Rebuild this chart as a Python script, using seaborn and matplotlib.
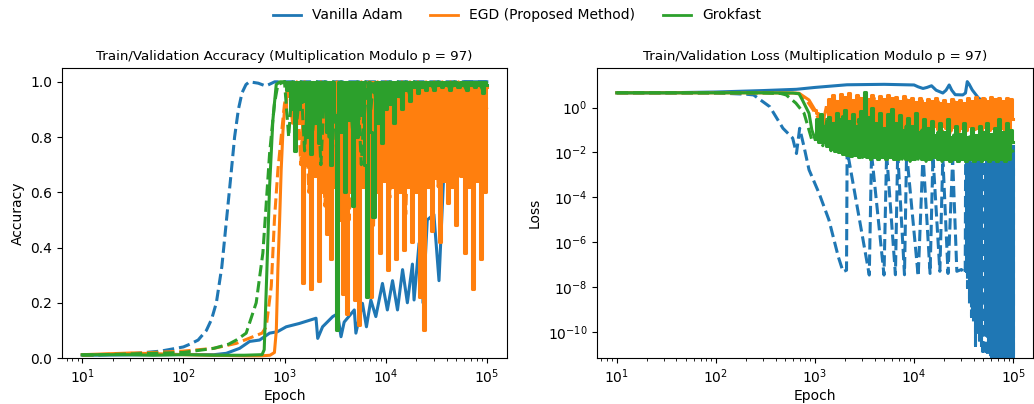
import matplotlib
matplotlib.use("Agg")
import matplotlib.pyplot as plt
from matplotlib.lines import Line2D
import seaborn as sns

# colours / labels
methods = ["Vanilla Adam", "EGD (Proposed Method)", "Grokfast"]
colors = ["#1f77b4", "#ff7f0e", "#2ca02c"]

# epoch grid used for the noisy part of the runs (1e3 .. 1e5)
dense_epochs = [
    1000, 1050, 1100, 1150, 1200, 1260, 1320, 1380, 1450, 1510,
    1580, 1660, 1740, 1820, 1900, 2000, 2090, 2190, 2290, 2400,
    2510, 2630, 2750, 2880, 3020, 3160, 3310, 3470, 3630, 3800,
    3980, 4170, 4370, 4570, 4790, 5010, 5250, 5500, 5750, 6030,
    6310, 6610, 6920, 7240, 7590, 7940, 8320, 8710, 9120, 9550,
    10000, 10500, 11000, 11500, 12000, 12600, 13200, 13800, 14500, 15100,
    15800, 16600, 17400, 18200, 19100, 20000, 20900, 21900, 22900, 24000,
    25100, 26300, 27500, 28800, 30200, 31600, 33100, 34700, 36300, 38000,
    39800, 41700, 43700, 45700, 47900, 50100, 52500, 55000, 57500, 60300,
    63100, 66100, 69200, 72400, 75900, 79400, 83200, 87100, 91200, 95500,
    100000]
coarse_epochs = dense_epochs[::2]

# ---------------- accuracy ----------------
adam_train_acc_ep = [10, 30, 60, 100, 116, 140, 169, 190, 212, 240, 267, 295, 321, 350, 380,
                     416, 450, 550, 650, 700, 800, 1000, 3000, 10000, 30000, 100000]
adam_train_acc = [0.01, 0.015, 0.025, 0.04, 0.05, 0.065, 0.1, 0.14, 0.2, 0.33, 0.5, 0.66, 0.8, 0.9, 0.96,
                  0.99, 1.0, 0.995, 0.985, 0.99, 1.0, 1.0, 1.0, 1.0, 1.0, 1.0]

adam_val_acc_ep = [10, 50, 100, 200, 266, 360, 452, 567, 712, 850, 1040, 1400, 2050, 2130, 2380,
                   3000, 3350, 3620, 3890, 4900, 5080, 5900, 6460, 7140, 8000, 9300, 10400, 11700, 13100,
                   14700, 16400, 18400, 19100, 21400, 23100, 23400, 25800, 30000, 33700, 37700, 40000,
                   44000, 50000, 60000, 100000]
adam_val_acc = [0.01, 0.012, 0.013, 0.012, 0.017, 0.035, 0.06, 0.065, 0.09, 0.095, 0.113, 0.125, 0.144, 0.071,
                0.113, 0.15, 0.16, 0.077, 0.13, 0.174, 0.09, 0.198, 0.113, 0.21, 0.15, 0.27, 0.174, 0.28,
                0.174, 0.32, 0.2, 0.34, 0.21, 0.415, 0.43, 0.2, 0.5, 0.52, 0.28, 0.68, 0.7, 0.9, 0.98, 1.0, 1.0]

egd_val_acc_pre_ep = [10, 30, 60, 100, 200, 400, 600, 720, 795, 830, 860, 895, 927, 965]
egd_val_acc_pre = [0.012, 0.018, 0.015, 0.012, 0.01, 0.008, 0.008, 0.01, 0.02, 0.1, 0.32, 0.5, 0.68, 0.82]
egd_val_acc_dense = [
    0.9, 0.95, 1.0, 0.88, 1.0, 0.8, 1.0, 0.85, 1.0, 0.27,
    1.0, 0.7, 1.0, 0.25, 1.0, 0.66, 1.0, 0.28, 1.0, 0.6,
    1.0, 0.45, 1.0, 0.36, 1.0, 0.62, 1.0, 0.5, 1.0, 0.23,
    1.0, 0.16, 1.0, 0.6, 1.0, 0.21, 1.0, 0.12, 1.0, 0.62,
    1.0, 0.3, 1.0, 0.22, 1.0, 0.6, 1.0, 0.38, 1.0, 0.64,
    1.0, 0.32, 1.0, 0.62, 1.0, 0.36, 1.0, 0.6, 1.0, 0.39,
    1.0, 0.62, 1.0, 0.42, 1.0, 0.6, 1.0, 0.22, 1.0, 0.1,
    1.0, 0.62, 1.0, 0.46, 1.0, 0.65, 1.0, 0.42, 1.0, 0.64,
    1.0, 0.56, 1.0, 0.62, 1.0, 0.48, 1.0, 0.66, 1.0, 0.38,
    1.0, 0.62, 1.0, 0.25, 1.0, 0.64, 1.0, 0.36, 1.0, 0.6,
    0.98]

egd_train_acc_pre_ep = [10, 50, 100, 200, 334, 488, 600, 660, 740, 795, 860, 962]
egd_train_acc_pre = [0.01, 0.02, 0.025, 0.035, 0.053, 0.077, 0.09, 0.113, 0.26, 0.5, 0.68, 0.86]
egd_train_acc_coarse = [
    0.92, 1.0, 0.85, 1.0, 0.7, 1.0, 0.6, 1.0, 0.75, 1.0,
    0.55, 1.0, 0.7, 1.0, 0.6, 1.0, 0.5, 1.0, 0.72, 1.0,
    0.62, 1.0, 0.48, 1.0, 0.7, 1.0, 0.58, 1.0, 0.75, 1.0,
    0.52, 1.0, 0.68, 1.0, 0.6, 1.0, 0.74, 1.0, 0.62, 1.0,
    0.72, 1.0, 0.66, 1.0, 0.75, 1.0, 0.62, 1.0, 0.7, 1.0,
    0.9]

grok_val_acc_pre_ep = [10, 30, 50, 100, 200, 400, 600, 630, 670, 712, 767, 828, 900]
grok_val_acc_pre = [0.012, 0.012, 0.01, 0.012, 0.01, 0.01, 0.012, 0.03, 0.32, 0.62, 0.86, 0.99, 1.0]
grok_val_acc_dense = [
    1.0, 0.97, 1.0, 0.9, 1.0, 0.75, 1.0, 0.9, 1.0, 0.93,
    1.0, 0.8, 1.0, 0.74, 1.0, 0.85, 1.0, 0.78, 1.0, 0.9,
    1.0, 0.82, 1.0, 0.7, 1.0, 0.88, 0.1, 1.0, 0.82, 1.0,
    0.6, 1.0, 0.86, 1.0, 0.55, 1.0, 0.8, 1.0, 0.88, 1.0,
    0.7, 0.22, 1.0, 0.82, 0.51, 1.0, 0.85, 1.0, 0.78, 1.0,
    0.9, 1.0, 0.92, 1.0, 0.85, 1.0, 0.95, 1.0, 0.9, 1.0,
    0.97, 1.0, 0.93, 1.0, 0.98, 1.0, 0.96, 1.0, 0.98, 1.0,
    0.97, 1.0, 0.99, 1.0, 0.97, 1.0, 0.99, 1.0, 0.98, 1.0,
    0.99, 1.0, 0.97, 1.0, 0.99, 1.0, 0.98, 1.0, 0.99, 1.0,
    0.97, 1.0, 0.99, 1.0, 0.98, 1.0, 0.99, 1.0, 0.96, 1.0,
    0.99]

grok_train_acc_pre_ep = [10, 100, 200, 280, 334, 418, 525, 611, 660, 712, 795, 860]
grok_train_acc_pre = [0.01, 0.02, 0.035, 0.05, 0.065, 0.09, 0.2, 0.38, 0.56, 0.74, 0.92, 0.99]
grok_train_acc_coarse = [
    1.0, 0.8, 1.0, 0.85, 1.0, 0.75, 1.0, 0.82, 1.0, 0.7,
    1.0, 0.8, 1.0, 0.72, 1.0, 0.85, 1.0, 0.78, 1.0, 0.7,
    1.0, 0.85, 1.0, 0.88, 1.0, 0.9, 1.0, 0.92, 1.0, 0.93,
    1.0, 0.95, 1.0, 0.96, 1.0, 0.97, 1.0, 0.97, 1.0, 0.98,
    1.0, 0.97, 1.0, 0.98, 1.0, 0.97, 1.0, 0.98, 1.0, 0.97,
    1.0]

# ---------------- loss ----------------
adam_train_loss_ep = [10, 100, 200, 240, 350, 475, 595, 650, 700, 775,
                      870, 1100, 1380, 1720, 1920, 2080, 2110, 3530, 3720, 4970,
                      5280, 6480, 6830, 8000, 8400, 11000, 12300, 14500, 15500, 18200,
                      19500, 22000, 24500, 27000, 30000, 32800]
adam_train_loss = [4.6, 4.5, 4.0, 3.7, 1.1, 0.12, 0.044, 0.009, 0.12, 0.018,
                   1.7e-3, 1.5e-4, 1e-5, 2.2e-7, 4.8e-8, 5.6e-8, 1.3e-2, 3.4e-8, 9e-3, 3.4e-8,
                   9e-3, 3.5e-8, 1e-2, 3.5e-8, 1e-2, 3e-8, 8e-3, 4e-8, 7e-3, 5e-8,
                   6e-3, 4e-8, 5e-3, 5e-8, 6e-8, 4e-8]
# late collapse of Adam's train loss
adam_block_ep = [33100, 33500, 33900, 34300, 34700, 35100, 35500, 35900, 36300, 36700,
                 37200, 37600, 38000, 38500, 38900, 39400, 39800, 40300, 40700, 41200,
                 41700, 42200, 42700, 43200, 43700, 44200, 44700, 45200, 45700, 46300,
                 46800, 47300, 47900, 49000, 50100, 51300, 52500, 53700, 55000, 56200,
                 57500, 58900, 60300, 61700, 63100, 64600, 66100, 67600, 69200, 70800,
                 72400, 74100, 75900, 77600, 79400, 81300, 83200, 85100, 87100, 89100,
                 91200, 93300, 95500, 97700, 100000]
adam_block_loss = [3e-3, 5e-8, 4e-3, 1e-8, 3e-3, 3e-8, 5e-3, 2e-9, 3e-3, 6e-9,
                   4e-3, 5e-10, 3e-3, 1e-9, 5e-3, 3e-10, 3e-3, 2e-9, 4e-3, 2.5e-11,
                   3e-3, 4e-10, 5e-3, 8e-11, 3e-3, 2e-10, 4e-3, 3e-11, 3e-3, 1e-10,
                   5e-3, 2e-11, 3e-3, 1e-11, 4e-3, 2e-10, 3e-3, 4e-12, 5e-3, 6e-11,
                   3e-3, 2e-12, 4e-3, 1e-11, 3e-3, 3e-12, 5e-3, 8e-11, 3e-3, 2e-12,
                   4e-3, 5e-12, 3e-3, 3e-11, 5e-3, 1e-12, 3e-3, 4e-12, 4e-3, 2e-11,
                   3e-3, 1e-12, 5e-3, 3e-12, 2e-3]

adam_val_loss_ep = [10, 30, 100, 300, 650, 1000, 2100, 5000, 10000, 11000,
                    12300, 13500, 15000, 16700, 19500, 21000, 22600, 24000, 26000, 31000,
                    33000, 34400, 36000, 38600, 44900, 52200, 53100]
adam_val_loss = [4.6, 4.6, 5.0, 5.8, 6.6, 8.0, 10.5, 11.0, 10.3, 8.5,
                 7.2, 8.0, 9.5, 6.0, 4.5, 6.0, 10.3, 6.0, 3.8, 3.7,
                 4.5, 14.5, 11.0, 6.2, 2.6, 1.9, 0.3]
adam_val_block_ep = [54300, 55600, 56900, 58200, 59600, 61000, 62400, 63900, 65300, 66800,
                     68400, 70000, 71600, 73300, 75000, 76700, 78500, 80300, 82200, 84100,
                     86100, 88100, 90200, 92200, 94400, 96600, 98800, 100000]
adam_val_block_loss = [1e-9, 5e-3, 2e-11, 3e-3, 5e-10, 5e-3, 3e-12, 3e-3, 8e-11, 4e-3,
                       1e-12, 3e-3, 6e-11, 5e-3, 2e-12, 3e-3, 4e-12, 4e-3, 2e-11, 3e-3,
                       1e-12, 5e-3, 5e-12, 3e-3, 3e-11, 4e-3, 1e-12, 2e-2]

egd_val_loss_pre_ep = [10, 100, 300, 600, 690, 870]
egd_val_loss_pre = [4.6, 4.6, 4.6, 4.5, 4.4, 2.2]
egd_val_loss_dense = [
    0.79, 0.55, 0.45, 0.3, 0.35, 0.2, 0.17, 2.5, 0.1, 3.5,
    0.08, 2.0, 0.12, 4.0, 0.06, 3.0, 0.1, 4.5, 0.07, 2.2,
    0.09, 3.8, 0.05, 2.8, 0.1, 4.2, 0.06, 2.5, 0.08, 3.6,
    0.12, 2.0, 0.05, 3.2, 0.09, 2.4, 0.07, 3.8, 0.11, 2.6,
    0.06, 3.0, 0.09, 2.0, 0.13, 3.4, 0.07, 2.2, 0.1, 2.8,
    0.08, 1.8, 0.12, 2.6, 0.09, 1.6, 0.14, 2.4, 0.1, 1.9,
    0.15, 2.8, 0.11, 1.7, 0.16, 2.2, 0.12, 1.5, 0.1, 2.5,
    0.14, 1.8, 0.09, 2.3, 0.13, 1.6, 0.1, 2.6, 0.15, 2.0,
    0.11, 3.0, 0.13, 2.2, 0.09, 2.8, 0.14, 2.0, 0.1, 3.0,
    0.12, 2.4, 0.09, 2.6, 0.13, 2.0, 0.1, 2.8, 0.12, 2.4,
    0.3]

egd_train_loss_pre_ep = [10, 100, 300, 600, 690, 800, 900]
egd_train_loss_pre = [4.6, 4.6, 4.55, 4.4, 4.2, 2.5, 1.2]
egd_train_loss_coarse = [
    0.6, 0.3, 0.2, 1.5, 0.08, 2.5, 0.06, 3.0, 0.05, 2.0,
    0.07, 3.2, 0.05, 2.2, 0.06, 3.0, 0.05, 1.8, 0.07, 2.6,
    0.05, 2.0, 0.08, 2.4, 0.06, 1.6, 0.08, 2.2, 0.07, 1.5,
    0.1, 2.0, 0.08, 1.6, 0.07, 2.2, 0.1, 1.4, 0.08, 2.0,
    0.09, 1.8, 0.07, 2.4, 0.1, 1.6, 0.08, 2.2, 0.09, 2.0,
    0.2]

grok_val_loss_pre_ep = [10, 100, 300, 600, 690, 746, 870, 930]
grok_val_loss_pre = [4.6, 4.6, 4.6, 4.5, 4.2, 2.2, 0.56, 0.1]
grok_val_loss_dense = [
    0.04, 0.3, 0.03, 0.5, 0.03, 0.15, 0.02, 0.4, 0.015, 0.2,
    0.012, 0.6, 0.01, 0.3, 0.009, 0.8, 0.008, 0.25, 0.007, 0.5,
    0.008, 0.15, 0.006, 0.7, 0.007, 5.0, 0.006, 0.4, 0.005, 1.0,
    0.006, 0.2, 0.005, 0.6, 0.006, 0.12, 0.005, 0.5, 0.006, 0.9,
    0.005, 0.2, 0.005, 0.45, 0.006, 0.1, 0.005, 0.35, 0.005, 0.15,
    0.005, 0.6, 0.006, 0.08, 0.005, 0.3, 0.005, 0.12, 0.005, 0.25,
    0.006, 0.06, 0.005, 0.2, 0.005, 0.08, 0.005, 0.3, 0.004, 0.05,
    0.005, 0.15, 0.004, 0.07, 0.005, 0.2, 0.004, 0.05, 0.005, 0.12,
    0.004, 0.06, 0.005, 0.15, 0.004, 0.08, 0.005, 0.2, 0.004, 0.07,
    0.005, 0.12, 0.004, 0.3, 0.005, 0.08, 0.004, 0.2, 0.005, 0.1,
    0.03]

grok_train_loss_pre_ep = [10, 100, 300, 450, 512, 641, 776, 870, 930]
grok_train_loss_pre = [4.6, 4.6, 4.55, 4.3, 3.7, 1.6, 0.56, 0.1, 0.036]
grok_train_loss_coarse = [
    0.04, 0.15, 0.02, 0.3, 0.012, 0.2, 0.01, 0.4, 0.008, 0.1,
    0.007, 0.3, 0.006, 0.15, 0.005, 0.25, 0.005, 0.08, 0.005, 0.2,
    0.005, 0.06, 0.005, 0.15, 0.004, 0.05, 0.005, 0.1, 0.004, 0.04,
    0.005, 0.08, 0.004, 0.03, 0.004, 0.06, 0.004, 0.03, 0.004, 0.05,
    0.004, 0.03, 0.004, 0.06, 0.004, 0.03, 0.004, 0.05, 0.004, 0.04,
    0.01]


def draw(ax, x, y, color, dashed, steps=False):
    sns.lineplot(x=x, y=y, ax=ax, color=color, linewidth=2.2,
                 linestyle="--" if dashed else "-",
                 drawstyle="steps-mid" if steps else "default",
                 estimator=None, sort=False, legend=False)


def draw_noisy(ax, pre_x, pre_y, grid, vals, color, dashed):
    # smooth start as a plain line, the jittery part as vertical strokes
    draw(ax, pre_x + grid[:1], pre_y + vals[:1], color, dashed)
    draw(ax, grid, vals, color, dashed, steps=True)


fig = plt.figure(figsize=(10.34, 4.04), dpi=100)
ax_acc = fig.add_axes([62 / 1034, 46 / 404, 445 / 1034, 290 / 404])
ax_loss = fig.add_axes([597 / 1034, 46 / 404, 436 / 1034, 290 / 404])
for ax in (ax_acc, ax_loss):
    ax.set_xscale("log")
ax_loss.set_yscale("log")

# accuracy panel
draw(ax_acc, adam_train_acc_ep, adam_train_acc, colors[0], True)
draw(ax_acc, adam_val_acc_ep, adam_val_acc, colors[0], False)
draw(ax_acc, egd_train_acc_pre_ep + coarse_epochs, egd_train_acc_pre + egd_train_acc_coarse, colors[1], True)
draw_noisy(ax_acc, egd_val_acc_pre_ep, egd_val_acc_pre, dense_epochs, egd_val_acc_dense, colors[1], False)
draw(ax_acc, grok_train_acc_pre_ep + coarse_epochs, grok_train_acc_pre + grok_train_acc_coarse, colors[2], True)
draw_noisy(ax_acc, grok_val_acc_pre_ep, grok_val_acc_pre, dense_epochs, grok_val_acc_dense, colors[2], False)

# loss panel
draw_noisy(ax_loss, adam_train_loss_ep, adam_train_loss, adam_block_ep, adam_block_loss, colors[0], True)
draw(ax_loss, adam_val_loss_ep, adam_val_loss, colors[0], False)
draw(ax_loss, adam_val_loss_ep[-1:] + adam_val_block_ep, adam_val_loss[-1:] + adam_val_block_loss,
     colors[0], False, steps=True)
draw(ax_loss, egd_train_loss_pre_ep + coarse_epochs, egd_train_loss_pre + egd_train_loss_coarse, colors[1], True)
draw_noisy(ax_loss, egd_val_loss_pre_ep, egd_val_loss_pre, dense_epochs, egd_val_loss_dense, colors[1], False)
draw(ax_loss, grok_train_loss_pre_ep + coarse_epochs, grok_train_loss_pre + grok_train_loss_coarse, colors[2], True)
draw_noisy(ax_loss, grok_val_loss_pre_ep, grok_val_loss_pre, dense_epochs, grok_val_loss_dense, colors[2], False)

ax_acc.set_xlim(10 ** 0.8, 10 ** 5.2)
ax_acc.set_ylim(0, 1.05)
ax_acc.set_title("Train/Validation Accuracy (Multiplication Modulo p = 97)", fontsize=9.6)
ax_acc.set_xlabel("Epoch", labelpad=2)
ax_acc.set_ylabel("Accuracy")

ax_loss.set_xlim(10 ** 0.8, 10 ** 5.2)
ax_loss.set_ylim(10 ** -11.17, 10 ** 1.77)
ax_loss.set_title("Train/Validation Loss (Multiplication Modulo p = 97)", fontsize=9.6)
ax_loss.set_xlabel("Epoch", labelpad=2)
ax_loss.set_ylabel("Loss")

handles = [Line2D([0], [0], color=c, lw=2) for c in colors]
fig.legend(handles, methods, loc="upper center", ncol=3, frameon=False,
           bbox_to_anchor=(0.5, 1.01), fontsize=10)

fig.savefig("out.png", dpi=100)
